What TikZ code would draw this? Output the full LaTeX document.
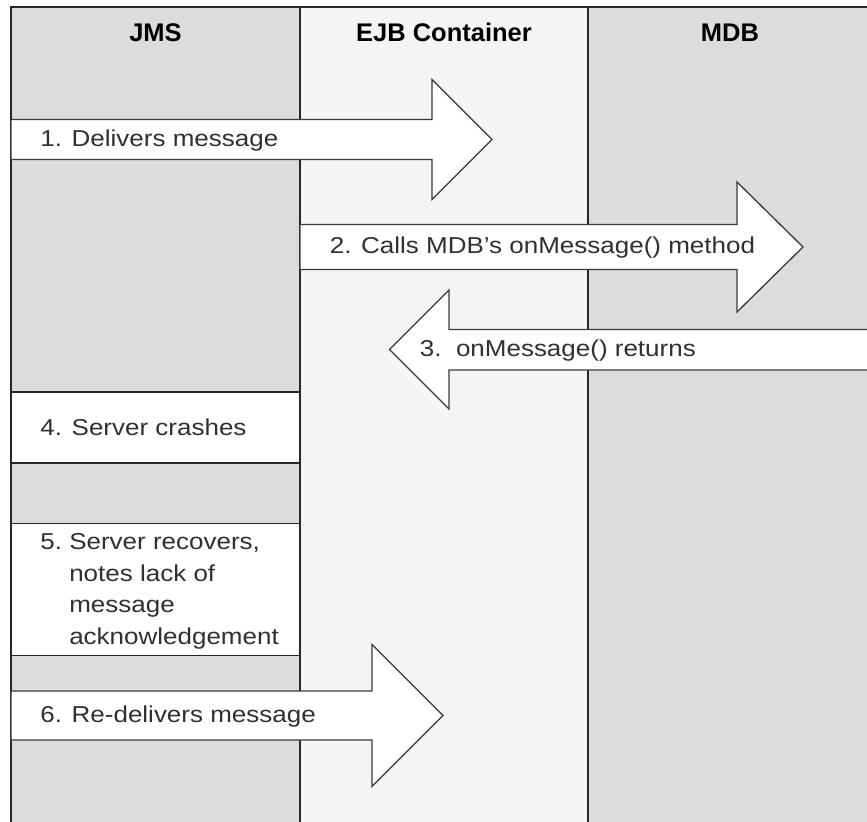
\documentclass[tikz,border=0pt]{standalone}
\usepackage{fontspec}
\newfontfamily\bodyfont[FakeStretch=1.13]{Liberation Sans}
\newfontfamily\headfont{Liberation Sans}
\definecolor{lanedark}{HTML}{DCDCDC}
\definecolor{lanelight}{HTML}{F4F4F4}
\definecolor{edge}{HTML}{262626}
\definecolor{arrowedge}{HTML}{3A3A3A}
\definecolor{ink}{HTML}{303030}
\begin{document}
\begin{tikzpicture}[x=0.5pt,y=-0.5pt,
		lane/.style={draw=edge,line width=0.8pt},
		stepbox/.style={draw=edge,fill=white,line width=0.8pt},
		bigarrow/.style={draw=arrowedge,fill=white,line width=0.65pt,line join=miter},
		msg/.style={anchor=base west,inner sep=0pt,text=ink,font=\bodyfont\fontsize{11.5}{15.85}\selectfont},
		lanehead/.style={anchor=base,inner sep=0pt,font=\headfont\bfseries\fontsize{12.75}{15}\selectfont}]
		\useasboundingbox (0,0) rectangle (867,821);
		\fill[white] (0,0) rectangle (867,821);

		\fill[lanedark] (11,7) rectangle (300,830);
		\fill[lanelight] (300,7) rectangle (588,830);
		\fill[lanedark] (588,7) rectangle (880,830);
		\draw[lane] (11,830) -- (11,7) -- (880,7);
		\draw[lane] (300,7) -- (300,830);
		\draw[lane] (588,7) -- (588,830);
		\node[lanehead] (jms) at (155.5,41.7) {JMS};
		\node[lanehead] (ejb) at (444,41.7) {EJB Container};
		\node[lanehead] (mdb) at (730,41.7) {MDB};

		\draw[bigarrow] (11,119.5) -- (432,119.5) -- (432,79.5) -- (492,139.5) -- (432,199.5) -- (432,159.5) -- (11,159.5) -- cycle;
		\node[msg] (deliver) at (40,146.5) {1. Delivers message};

		\draw[bigarrow] (300,224.5) -- (737,224.5) -- (737,182) -- (803,247) -- (737,312) -- (737,269.5) -- (300,269.5) -- cycle;
		\node[msg] (call) at (329.5,253.5) {2. Calls MDB’s onMessage() method};

		\draw[bigarrow] (880,329.5) -- (449,329.5) -- (449,290) -- (389.5,349.5) -- (449,409) -- (449,370) -- (880,370) -- cycle;
		\node[msg] (return) at (419.5,356.5) {3.\ \ onMessage() returns};

		\draw[stepbox] (11,391.7) rectangle (300,462.7);
		\node[msg] (crash) at (40,435) {4. Server crashes};

		\draw[stepbox] (11,523.3) rectangle (300,655.3);
		\node[msg] (recover) at (40,549.5) {\begin{tabular}[t]{@{}l@{\ }l@{}}5. & Server recovers,\\ & notes lack of\\ & message\\ & acknowledgement\end{tabular}};

		\draw[bigarrow] (11,691) -- (372,691) -- (372,644.5) -- (443,715.5) -- (372,786.5) -- (372,740) -- (11,740) -- cycle;
		\node[msg] (redeliver) at (40,722.7) {6. Re-delivers message};
	\end{tikzpicture}
\end{document}
